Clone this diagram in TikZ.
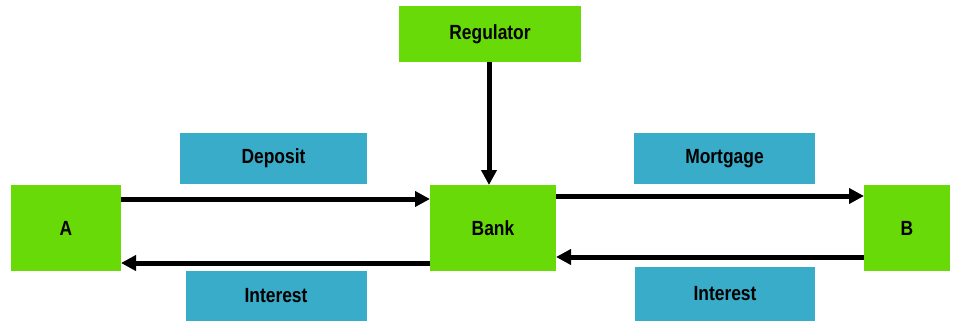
\documentclass[tikz,border=0pt]{standalone}
\usepackage{fontspec}
\setmainfont{Liberation Sans}
\newfontfamily\condfont[FakeStretch=0.85]{Liberation Sans}
\usetikzlibrary{arrows.meta,calc}
\definecolor{boxgreen}{RGB}{104,218,8}
\definecolor{boxteal}{RGB}{56,172,200}
\tikzset{
  gbox/.style={fill=boxgreen, inner sep=0pt, outer sep=0pt, font=\condfont\fontsize{20.5}{22}\selectfont\bfseries},
  tbox/.style={fill=boxteal, inner sep=0pt, outer sep=0pt, font=\condfont\fontsize{20.5}{22}\selectfont\bfseries},
  arr/.style={line width=5pt, -{Triangle[length=15pt,width=15pt]}}
}
\begin{document}
\begin{tikzpicture}[x=1pt,y=-1pt]
\useasboundingbox (0,0) rectangle (960,321);
\node[gbox, minimum width=182pt, minimum height=56pt] (Reg) at (490,34) {Regulator};
\node[gbox, minimum width=110pt, minimum height=86pt] (A) at (66,228) {A};
\node[gbox, minimum width=126pt, minimum height=86pt] (Bank) at (493,228) {Bank};
\node[gbox, minimum width=86pt, minimum height=86pt] (B) at (907,228) {B};
\node[tbox, minimum width=187pt, minimum height=51pt] (Dep) at (273.5,158.5) {Deposit};
\node[tbox, minimum width=181pt, minimum height=51pt] (Mort) at (724.5,158.5) {Mortgage};
\node[tbox, minimum width=181pt, minimum height=50pt] (IntL) at (276,296) {Interest};
\node[tbox, minimum width=180pt, minimum height=54pt] (IntR) at (725,294) {Interest};
\draw[arr] ($(A.east)+(0,-29)$) -- ($(Bank.west)+(0,-29)$);
\draw[arr] ($(Bank.west)+(0,35)$) -- ($(A.east)+(0,35)$);
\draw[arr] ($(Bank.east)+(0,-32)$) -- ($(B.west)+(0,-32)$);
\draw[arr] ($(B.west)+(0,29)$) -- ($(Bank.east)+(0,29)$);
\draw[arr] ($(Reg.south)+(-1,0)$) -- ($(Reg.south |- Bank.north)+(-1,0)$);
\end{tikzpicture}
\end{document}
